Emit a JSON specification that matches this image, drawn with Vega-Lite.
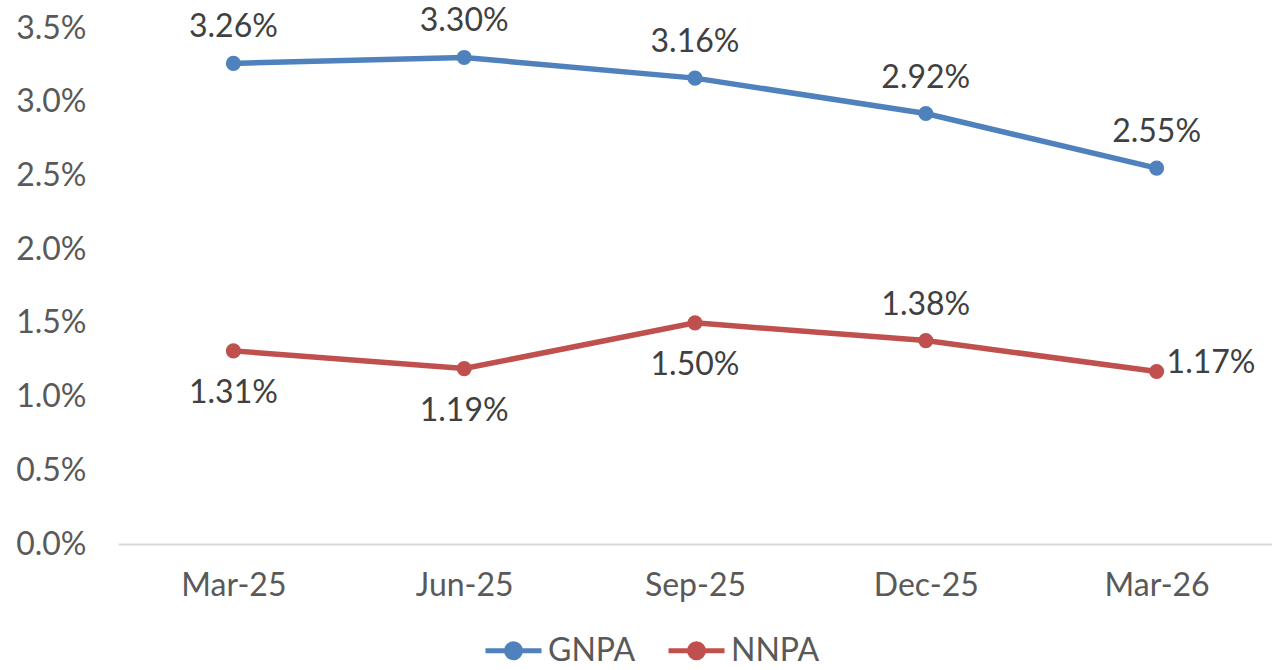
{
  "$schema": "https://vega.github.io/schema/vega-lite/v6.json",
  "autosize": {"type": "none"},
  "padding": {"left": 118, "top": 28, "right": 0, "bottom": 126},
  "width": 1154,
  "height": 516,
  "background": "white",
  "config": {
    "font": "Lato",
    "view": {"stroke": null},
    "axis": {"labelFont": "Lato", "labelColor": "#595959", "labelFontSize": 32, "grid": false, "ticks": false, "title": null}
  },
  "data": {
    "values": [
      {"date": "Mar-25", "series": "GNPA", "value": 0.0326},
      {"date": "Jun-25", "series": "GNPA", "value": 0.0330},
      {"date": "Sep-25", "series": "GNPA", "value": 0.0316},
      {"date": "Dec-25", "series": "GNPA", "value": 0.0292},
      {"date": "Mar-26", "series": "GNPA", "value": 0.0255},
      {"date": "Mar-25", "series": "NNPA", "value": 0.0131},
      {"date": "Jun-25", "series": "NNPA", "value": 0.0119},
      {"date": "Sep-25", "series": "NNPA", "value": 0.0150},
      {"date": "Dec-25", "series": "NNPA", "value": 0.0138},
      {"date": "Mar-26", "series": "NNPA", "value": 0.0117}
    ]
  },
  "encoding": {
    "x": {
      "field": "date", "type": "ordinal",
      "sort": ["Mar-25", "Jun-25", "Sep-25", "Dec-25", "Mar-26"],
      "scale": {"type": "point", "padding": 0.5},
      "axis": {"labelAngle": 0, "domainColor": "#d9d9d9", "domainWidth": 2, "labelPadding": 26}
    },
    "y": {
      "field": "value", "type": "quantitative",
      "scale": {"domain": [0, 0.035]},
      "axis": {"format": ".1%", "values": [0, 0.005, 0.01, 0.015, 0.02, 0.025, 0.03, 0.035], "domain": false, "labelPadding": 32}
    }
  },
  "layer": [
    {
      "mark": {"type": "line", "strokeWidth": 5.5, "point": {"size": 230, "filled": true, "opacity": 1}},
      "encoding": {
        "color": {
          "field": "series", "type": "nominal",
          "scale": {"domain": ["GNPA", "NNPA"], "range": ["#4F81BD", "#C0504D"]},
          "legend": {
            "orient": "none", "legendX": 365, "legendY": 592, "direction": "horizontal", "title": null,
            "symbolType": "M-1,0L1,0M-0.25,0A0.25,0.25 0 1,0 0.25,0A0.25,0.25 0 1,0 -0.25,0Z",
            "symbolSize": 3136, "symbolStrokeWidth": 5, "labelFontSize": 32, "labelColor": "#595959", "labelFont": "Lato",
            "labelOffset": 4, "columnPadding": 22,
            "encode": {"symbols": {"update": {"fill": {"scale": "color", "field": "value"}, "fillOpacity": {"value": 1}}}}
          }
        }
      }
    },
    {
      "transform": [{"filter": "datum.series == 'GNPA' || datum.date == 'Dec-25'"}],
      "mark": {"type": "text", "dy": -36, "fontSize": 32, "color": "#404040", "baseline": "middle", "font": "Lato"},
      "encoding": {"text": {"field": "value", "type": "quantitative", "format": ".2%"}}
    },
    {
      "transform": [{"filter": "datum.series == 'NNPA' && datum.date != 'Dec-25' && datum.date != 'Mar-26'"}],
      "mark": {"type": "text", "dy": 42, "fontSize": 32, "color": "#404040", "baseline": "middle", "font": "Lato"},
      "encoding": {"text": {"field": "value", "type": "quantitative", "format": ".2%"}}
    },
    {
      "transform": [{"filter": "datum.series == 'NNPA' && datum.date == 'Mar-26'"}],
      "mark": {"type": "text", "dx": 10, "dy": -9, "align": "left", "fontSize": 32, "color": "#404040", "baseline": "middle", "font": "Lato"},
      "encoding": {"text": {"field": "value", "type": "quantitative", "format": ".2%"}}
    }
  ]
}
